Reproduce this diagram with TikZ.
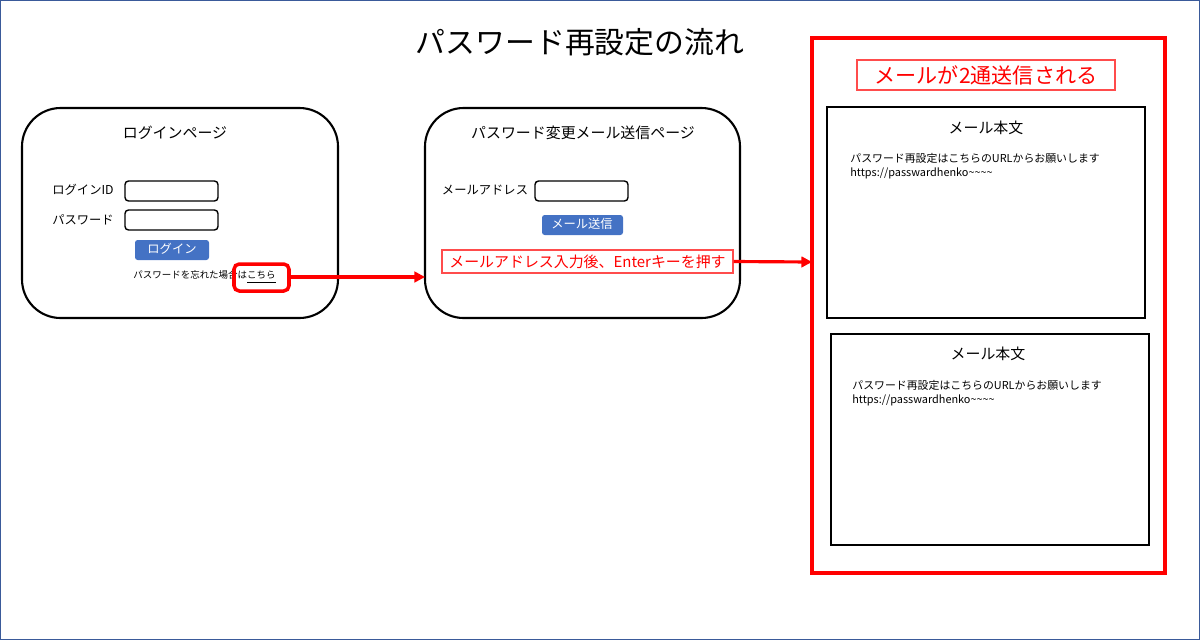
\documentclass[tikz,border=0pt]{standalone}
\usepackage{fontspec}
\setmainfont{Noto Sans CJK JP}
\usetikzlibrary{arrows.meta}
\definecolor{btn}{HTML}{4472C4}
\definecolor{rd}{HTML}{FF0000}
\definecolor{frame}{HTML}{3A5A9A}
\tikzset{
 page/.style={draw=black,line width=1.2pt,rounded corners=22pt},
 inp/.style={draw=black,line width=0.8pt,rounded corners=2pt},
 btnbox/.style={fill=btn,rounded corners=1.5pt,text=white,font=\fontsize{7}{8}\selectfont,inner sep=0pt},
 lbl/.style={font=\fontsize{7}{8}\selectfont,inner sep=0pt},
 ttl/.style={font=\fontsize{8.5}{10}\selectfont,inner sep=0pt},
 mail/.style={draw=black,line width=1.6pt},
 arr/.style={draw=rd,line width=1.8pt,-{Triangle[length=6pt,width=6pt]}},
 body/.style={font=\fontsize{6.2}{7.8}\selectfont,inner sep=0pt,anchor=north west,align=left}
}
\begin{document}
\begin{tikzpicture}[x=0.02cm,y=-0.02cm]
\useasboundingbox (0,0) rectangle (1200,640);
\draw[frame,line width=0.6pt] (0.5,0.5) rectangle (1199.5,639.5);
\node[font=\fontsize{17}{19}\selectfont,inner sep=0pt] (title) at (580,42) {パスワード再設定の流れ};
% login page
\draw[page] (22,108) rectangle (338,318);
\node[ttl] (lt) at (175,133) {ログインページ};
\node[lbl] (lid) at (83,190) {ログインID};
\draw[inp] (125,181) rectangle (218,201);
\node[lbl] (lpw) at (83,220) {パスワード};
\draw[inp] (125,210) rectangle (218,230);
\path[btnbox] (135,240) rectangle (209,260);
\node[lbl,text=white] (lbtn) at (172,249) {ログイン};
\node[font=\fontsize{5.4}{6}\selectfont,inner sep=0pt,anchor=east] (forgot) at (276,277) {パスワードを忘れた場合は\underline{こちら}};
\draw[draw=rd,line width=2pt,rounded corners=3pt] (234,264) rectangle (289,291);
\coordinate (a1) at (289,277);
% mail send page
\draw[page] (425,108) rectangle (740,318);
\coordinate (a1e) at (425,277);
\node[ttl] (mt) at (583,133) {パスワード変更メール送信ページ};
\node[lbl] (madr) at (485,190) {メールアドレス};
\draw[inp] (535,181) rectangle (628,201);
\path[btnbox] (542,215) rectangle (623,235);
\node[lbl,text=white] (mbtn) at (582,224) {メール送信};
\node[draw=rd!70,line width=0.6pt,text=rd,font=\fontsize{8.5}{10}\selectfont,minimum width=291*0.02cm,minimum height=23*0.02cm,inner sep=0pt] (enter) at (587.5,261.5) {メールアドレス入力後、Enterキーを押す};
\draw[arr] (a1) -- (a1e);
% result
\draw[draw=rd,line width=2pt] (812,38) rectangle (1165,573);
\coordinate (a2e) at (812,262);
\draw[arr] (enter.east) -- (a2e);
\node[draw=rd!70,line width=0.6pt,text=rd,font=\fontsize{12}{14}\selectfont,minimum width=258*0.02cm,minimum height=30*0.02cm,inner sep=0pt] (two) at (986,75) {メールが2通送信される};
\draw[mail] (827,107) rectangle (1145,318);
\node[ttl] (m1t) at (986,128) {メール本文};
\node[body] (m1b) at (850,153) {パスワード再設定はこちらのURLからお願いします\\https://passwardhenko\textasciitilde\textasciitilde\textasciitilde\textasciitilde};
\draw[mail] (831,334) rectangle (1149,545);
\node[ttl] (m2t) at (988,354) {メール本文};
\node[body] (m2b) at (852,380) {パスワード再設定はこちらのURLからお願いします\\https://passwardhenko\textasciitilde\textasciitilde\textasciitilde\textasciitilde};
\end{tikzpicture}
\end{document}
